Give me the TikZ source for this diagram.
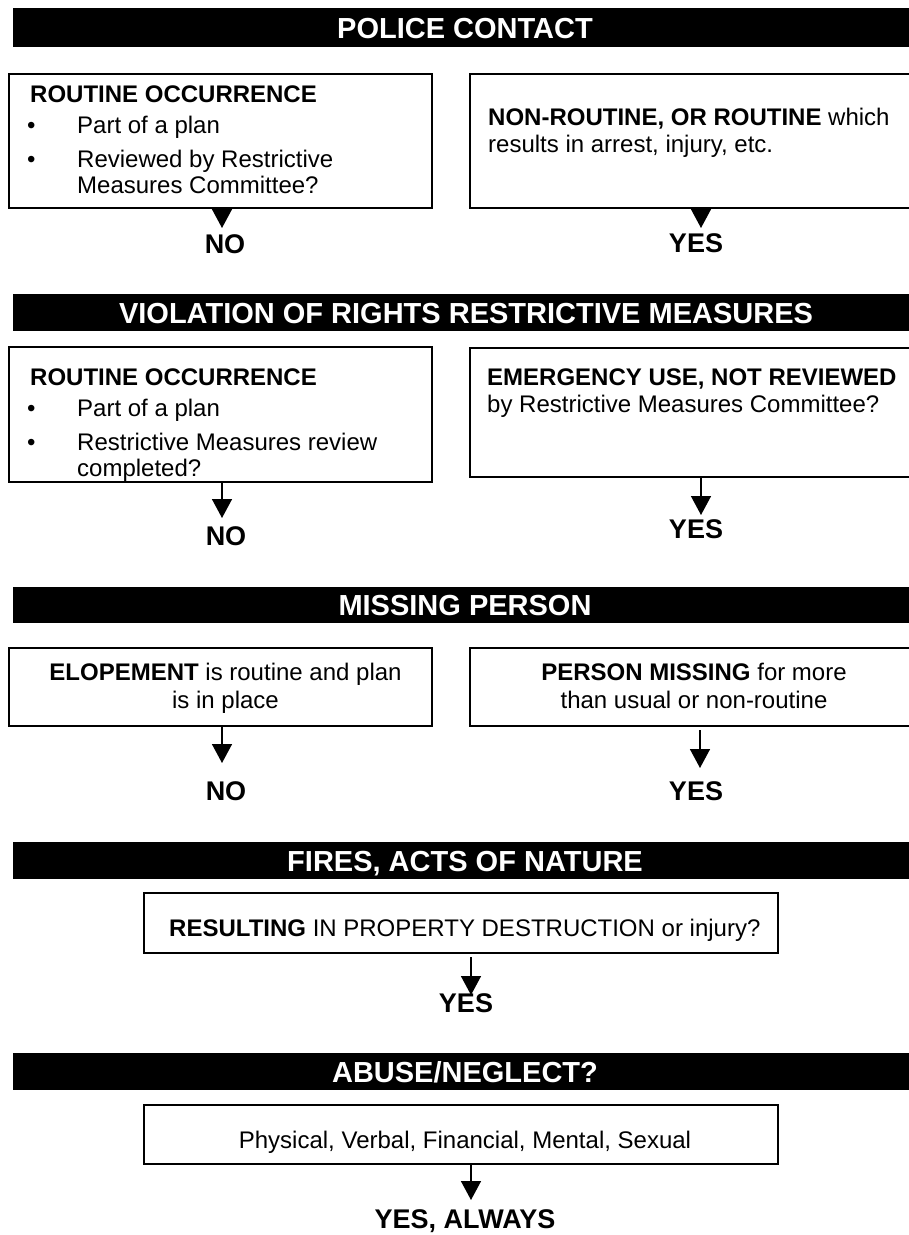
\documentclass[tikz,border=0pt]{standalone}
\usepackage{fontspec}
\setmainfont{Liberation Sans}
\usetikzlibrary{arrows.meta,calc}
\begin{document}
\begin{tikzpicture}[x=1pt,y=-1pt,
  bar/.style={fill=black, draw=none, inner sep=0, outer sep=0, anchor=north west, minimum width=904pt},
  hdr/.style={text=white, font=\fontsize{29}{34}\selectfont\bfseries, anchor=base, inner sep=0},
  box/.style={draw=black, line width=1.5pt, fill=white, inner sep=0, outer sep=0, anchor=north west},
  body/.style={font=\fontsize{24}{28}\selectfont, anchor=base west, inner sep=0},
  bodyc/.style={font=\fontsize{24}{28}\selectfont, anchor=base, inner sep=0},
  ans/.style={font=\fontsize{27}{30}\selectfont\bfseries, anchor=base, inner sep=0},
  arr/.style={line width=1.5pt, -{Triangle[length=19pt,width=20pt]}},
]
\useasboundingbox (0,0) rectangle (909,1235);

% ---------- Section 1: POLICE CONTACT ----------
\node[bar, minimum height=39pt] (bar1) at (13,8) {};
\node[hdr] (h1) at (465,38) {POLICE CONTACT};
\node[box, minimum width=423pt, minimum height=134pt] (l1) at (9,74) {};
\node[box, minimum width=460pt, minimum height=134pt] (r1) at (470,74) {};
\node[body] (l1a) at (30,102) {\textbf{ROUTINE OCCURRENCE}};
\node[body] (l1b1) at (27,133) {•};
\node[body] (l1b) at (77,133) {Part of a plan};
\node[body] (l1b2) at (27,167) {•};
\node[body] (l1c) at (77,167) {Reviewed by Restrictive};
\node[body] (l1d) at (77,193) {Measures Committee?};
\node[body] (r1a) at (488,125) {\textbf{NON-ROUTINE, OR ROUTINE} which};
\node[body] (r1b) at (488,152) {results in arrest, injury, etc.};
\coordinate (t1l) at (222,228);
\coordinate (t1r) at (701,228);
\draw[arr] (l1.south -| t1l) -- (t1l);
\draw[arr] (r1.south -| t1r) -- (t1r);
\node[ans] (n1) at (225,253) {NO};
\node[ans] (y1) at (696,252) {YES};

% ---------- Section 2: VIOLATION OF RIGHTS ----------
\node[bar, minimum height=37pt] (bar2) at (13,294) {};
\node[hdr] (h2) at (466,323) {VIOLATION OF RIGHTS RESTRICTIVE MEASURES};
\node[box, minimum width=423pt, minimum height=135pt] (l2) at (9,347) {};
\node[box, minimum width=460pt, minimum height=129pt] (r2) at (470,348) {};
\node[body] (l2a) at (30,385) {\textbf{ROUTINE OCCURRENCE}};
\node[body] (l2b1) at (27,416) {•};
\node[body] (l2b) at (77,416) {Part of a plan};
\node[body] (l2b2) at (27,450) {•};
\node[body] (l2c) at (77,450) {Restrictive Measures review};
\node[body] (l2d) at (77,476) {completed?};
\node[body] (r2a) at (487,385) {\textbf{EMERGENCY USE, NOT REVIEWED}};
\node[body] (r2b) at (487,412) {by Restrictive Measures Committee?};
\coordinate (t2l) at (222,518);
\coordinate (t2r) at (701,515);
\draw[arr] (l2.south -| t2l) -- (t2l);
\draw[arr] (r2.south -| t2r) -- (t2r);
\node[ans] (n2) at (226,545) {NO};
\node[ans] (y2) at (696,538) {YES};

% ---------- Section 3: MISSING PERSON ----------
\node[bar, minimum height=36pt] (bar3) at (13,587) {};
\node[hdr] (h3) at (465,615) {MISSING PERSON};
\node[box, minimum width=423pt, minimum height=78pt] (l3) at (9,648) {};
\node[box, minimum width=460pt, minimum height=78pt] (r3) at (470,648) {};
\node[bodyc] (l3a) at (225.5,680) {\textbf{ELOPEMENT} is routine and plan};
\node[bodyc] (l3b) at (225.5,708) {is in place};
\node[bodyc] (r3a) at (694,680) {\textbf{PERSON MISSING} for more};
\node[bodyc] (r3b) at (694,708) {than usual or non-routine};
\coordinate (t3l) at (222,763);
\coordinate (t3r) at (700,768);
\draw[arr] (l3.south -| t3l) -- (t3l);
\draw[arr] ($(r3.south -| t3r)+(0,4)$) -- (t3r);
\node[ans] (n3) at (226,800) {NO};
\node[ans] (y3) at (696,800) {YES};

% ---------- Section 4: FIRES ----------
\node[bar, minimum height=37pt] (bar4) at (13,842) {};
\node[hdr] (h4) at (465,871) {FIRES, ACTS OF NATURE};
\node[box, minimum width=634pt, minimum height=60pt] (b4) at (144,893) {};
\node[body] (b4a) at (169,936) {\textbf{RESULTING} IN PROPERTY DESTRUCTION or injury?};
\coordinate (t4) at (471,995);
\draw[arr] ($(b4.south -| t4)+(0,4)$) -- (t4);
\node[ans] (y4) at (466,1012) {YES};

% ---------- Section 5: ABUSE ----------
\node[bar, minimum height=37pt] (bar5) at (13,1053) {};
\node[hdr] (h5) at (465,1082) {ABUSE/NEGLECT?};
\node[box, minimum width=634pt, minimum height=59pt] (b5) at (144,1105) {};
\node[bodyc] (b5a) at (465,1148) {Physical, Verbal, Financial, Mental, Sexual};
\coordinate (t5) at (471,1200);
\draw[arr] (b5.south -| t5) -- (t5);
\node[ans] (y5) at (465,1228) {YES, ALWAYS};
\end{tikzpicture}
\end{document}
